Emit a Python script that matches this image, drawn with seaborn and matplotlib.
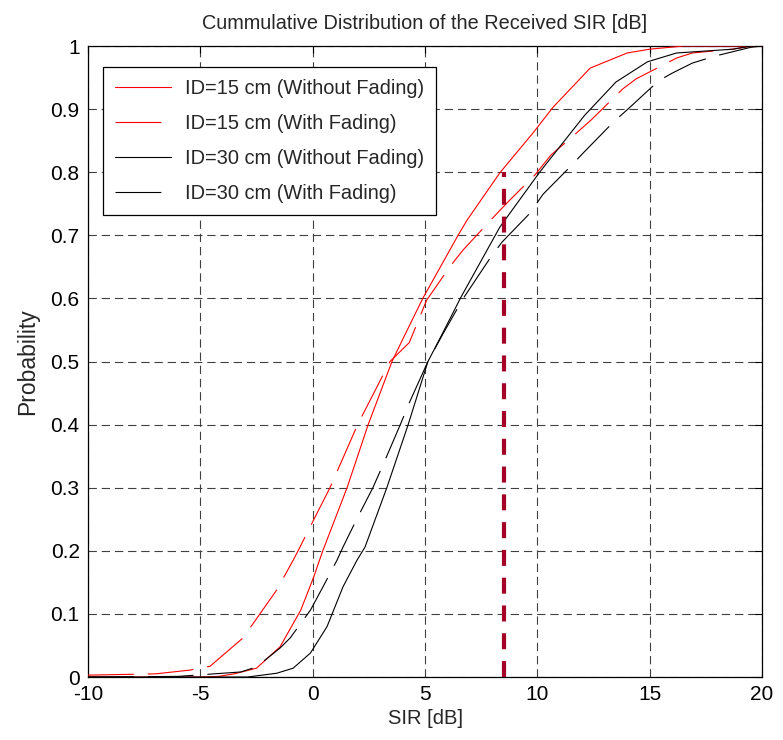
import seaborn as sns
from matplotlib import pyplot as plt

sns.set_theme(style="white")
plt.rcParams['font.family'] = ['Liberation Sans', 'DejaVu Sans']
plt.rcParams['lines.scale_dashes'] = False

# CDF: SIR [dB] and probability for each case
x_15_nofade = [-10, -5, -4.2, -3.5, -2.5, -1.45, -0.53, 0.04, 0.45, 1.53, 2.47, 3.53, 4.1, 4.9,
               5.67, 6.47, 6.87, 8.33, 9.8, 10.7, 12.35, 14.0, 15.0, 16.5, 20]
p_15_nofade = [0, 0, 0.001, 0.005, 0.014, 0.048, 0.106, 0.158, 0.2, 0.3, 0.4, 0.5, 0.542, 0.6,
               0.649, 0.7, 0.724, 0.799, 0.862, 0.903, 0.965, 0.989, 0.995, 1.0, 1.0]

x_15_fade = [-10, -7, -5.46, -4.57, -3.1, -1.6, -0.87, -0.65, 0.1, 0.77, 2.0, 3.44, 4.3, 5.07,
             6.1, 6.7, 7.3, 8.0, 8.64, 9.9, 10.6, 11.8, 12.4, 13.8, 14.4, 16.2, 16.9, 18.7, 19.6, 20]
p_15_fade = [0.003, 0.005, 0.011, 0.017, 0.062, 0.138, 0.185, 0.2, 0.253, 0.3, 0.4, 0.5, 0.53, 0.597,
             0.65, 0.677, 0.7, 0.727, 0.751, 0.796, 0.827, 0.864, 0.883, 0.932, 0.948, 0.981, 0.989, 0.995, 1.0, 1.0]

x_30_nofade = [-10, -2.9, -1.6, -0.87, -0.1, 0.64, 1.35, 1.97, 2.33, 3.3, 4.25, 5.13, 5.67, 6.6,
               8.33, 10.1, 12.1, 13.5, 14.9, 16.2, 18.7, 19.5, 20]
p_30_nofade = [0, 0, 0.006, 0.014, 0.038, 0.08, 0.143, 0.185, 0.206, 0.3, 0.4, 0.5, 0.537, 0.602,
               0.713, 0.8, 0.89, 0.943, 0.975, 0.989, 0.995, 1.0, 1.0]

x_30_fade = [-10, -6, -3.2, -2.5, -1.45, -1.0, -0.1, 0.46, 1.08, 1.35, 2.0, 2.68, 3.2, 3.9, 4.33,
             5.13, 5.8, 6.7, 7.9, 8.42, 9.67, 10.25, 11.5, 12.0, 13.4, 14.0, 15.4, 16.0, 16.9, 17.9, 19.5, 20]
p_30_fade = [0, 0.001, 0.008, 0.016, 0.046, 0.062, 0.106, 0.143, 0.185, 0.206, 0.253, 0.3, 0.342, 0.4, 0.437,
             0.5, 0.544, 0.6, 0.664, 0.689, 0.735, 0.765, 0.81, 0.829, 0.88, 0.899, 0.945, 0.957, 0.973, 0.984, 0.998, 1.0]

labels = ["ID=15 cm (Without Fading)", "ID=15 cm (With Fading)",
          "ID=30 cm (Without Fading)", "ID=30 cm (With Fading)"]

# threshold marker
marker_x = 8.5
marker_top = 0.8

x_ticks = [-10, -5, 0, 5, 10, 15, 20]
y_ticks = [0, 0.1, 0.2, 0.3, 0.4, 0.5, 0.6, 0.7, 0.8, 0.9, 1]

fig = plt.figure(figsize=(7.83, 7.4), dpi=100)
ax = fig.add_axes([0.1124, 0.0851, 0.8608, 0.8527])

long_dash = (0, (33, 10))
series = [
    (x_15_nofade, p_15_nofade, "#ff0000", "-"),
    (x_15_fade, p_15_fade, "#ff0000", long_dash),
    (x_30_nofade, p_30_nofade, "black", "-"),
    (x_30_fade, p_30_fade, "black", long_dash),
]
for (xs, ps, col, ls), lab in zip(series, labels):
    sns.lineplot(x=xs, y=ps, ax=ax, color=col, linestyle=ls, linewidth=0.8,
                 sort=False, label=lab, zorder=3)

ax.plot([marker_x, marker_x], [0, marker_top], color="#a50026", linewidth=3.0,
        linestyle=(0, (11.5, 8.5)), zorder=4)

ax.set_xlim(-10, 20)
ax.set_ylim(0, 1)
ax.set_xticks(x_ticks)
ax.set_yticks(y_ticks)
ax.set_xticklabels([str(t) for t in x_ticks])
ax.set_yticklabels([f"{t:g}" for t in y_ticks])
ax.grid(True, color="0.25", linestyle=(0, (6, 3.5)), linewidth=0.8)
ax.tick_params(direction="in", top=True, right=True, length=5, width=0.8,
               labelsize=15, colors="black", pad=6)
for s in ax.spines.values():
    s.set_color("black")
    s.set_linewidth(0.9)

ax.set_title("Cummulative Distribution of the Received SIR [dB]", fontsize=14.3, pad=12)
ax.set_xlabel("SIR [dB]", fontsize=14.5, labelpad=3)
ax.set_ylabel("Probability", fontsize=16.5, labelpad=8)

leg = ax.legend(loc="upper left", bbox_to_anchor=(0.0223, 0.9667), fontsize=14.4,
                frameon=True, fancybox=False, framealpha=1, edgecolor="black",
                handlelength=2.8, handletextpad=0.7, labelspacing=0.8,
                borderpad=0.6, borderaxespad=0)
leg.get_frame().set_linewidth(0.9)

fig.savefig("out.png", dpi=100)
